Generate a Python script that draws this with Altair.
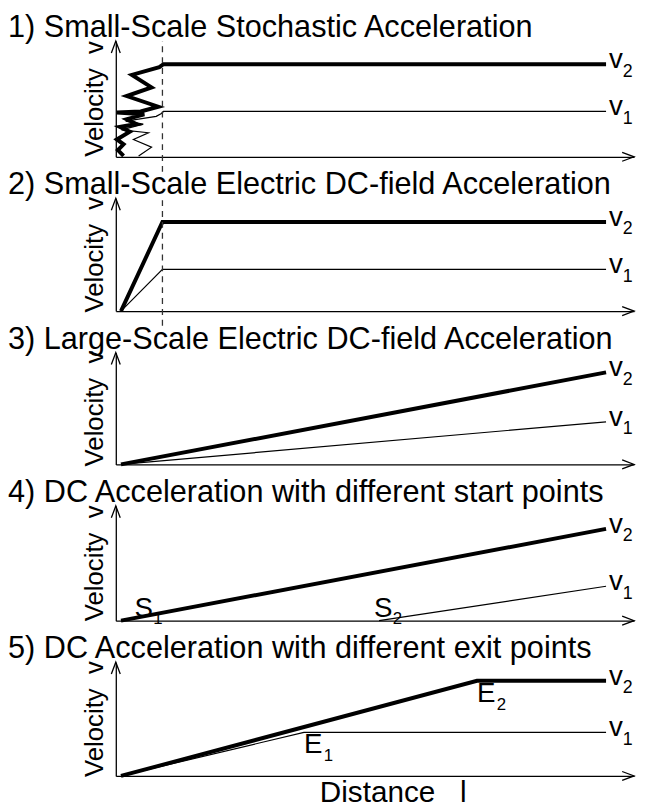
import altair as alt
import pandas as pd

FONT = "Liberation Sans"

TITLES = [
    "1) Small-Scale Stochastic Acceleration",
    "2) Small-Scale Electric DC-field Acceleration",
    "3) Large-Scale Electric DC-field Acceleration",
    "4) DC Acceleration with different start points",
    "5) DC Acceleration with different exit points",
]
Y_LABEL = "Velocity\u00a0\u00a0v"
X_LABEL = "Distance\u00a0\u00a0\u00a0l"

# Panel 1: stochastic acceleration (thick = v2 path, thin = v1 path)
P1_V2_X = [1.5, 0.4, 1.5, 0.2, 2.7, 0.8, 4.0, 2.1, 5.5, 0.2, 4.8, 8.2, 2.1, 6.9, 3.1, 8.4, 9.2, 94.6]
P1_V2_Y = [0.8, 5.8, 10.8, 15.0, 21.7, 25.8, 28.3, 32.5, 36.7, 38.3, 39.2, 43.3, 52.5, 60.0, 70.8, 77.5, 80.0, 80.0]
P1_V1_X = [4.4, 6.9, 3.4, 6.3, 1.1, 5.3, 1.9, 7.8, 8.8, 9.2, 94.6]
P1_V1_Y = [0.8, 8.3, 15.0, 20.8, 23.3, 28.3, 30.8, 35.0, 37.5, 39.2, 39.2]

# Panel 2: small-scale DC field
P2_V2_X = [1.0, 9.0, 94.6]
P2_V2_Y = [0.0, 79.0, 79.0]
P2_V1_X = [1.0, 9.0, 94.6]
P2_V1_Y = [0.0, 37.0, 37.0]

# Panel 3: large-scale DC field
P3_V2_X = [1.0, 94.6]
P3_V2_Y = [0.0, 82.3]
P3_V1_X = [1.0, 94.6]
P3_V1_Y = [0.0, 38.1]

# Panel 4: different start points
P4_V2_X = [1.0, 94.6]
P4_V2_Y = [0.0, 80.0]
P4_V1_X = [50.8, 94.6]
P4_V1_Y = [0.0, 30.0]

# Panel 5: different exit points
P5_V2_X = [1.0, 69.7, 94.6]
P5_V2_Y = [0.0, 83.6, 83.6]
P5_V1_X = [1.0, 36.3, 94.6]
P5_V1_Y = [0.0, 38.3, 38.3]

# dashed boundary (panels 1, 2)
DASH_X = [9.0, 9.0]
DASH_Y = [-13.0, 100.0]

# start / exit point labels
S_X = [3.6, 49.8]
S_Y = [3.0, 3.0]
S_SUB = ["1", "2"]
E_X = [36.3, 69.7]
E_Y = [38.3, 83.6]
E_SUB = ["1", "2"]

HEIGHTS = [117, 114, 113, 116, 115]
WIDTH = 524

XS = alt.Scale(domain=[0, 100], nice=False, zero=False)
YS = alt.Scale(domain=[0, 100], nice=False, zero=False)


def axes(xtitle):
    if xtitle:
        xa = alt.Axis(title=xtitle, labels=False, ticks=False, grid=False,
                      domainColor="black", domainWidth=1.3,
                      titleFont=FONT, titleFontSize=30, titleFontWeight="normal",
                      titleColor="black", titlePadding=2, titleX=280)
    else:
        xa = alt.Axis(title=None, labels=False, ticks=False, grid=False,
                      domainColor="black", domainWidth=1.3)
    ya = alt.Axis(title=None, labels=False, ticks=False, grid=False,
                  domainColor="black", domainWidth=1.3)
    return xa, ya


def line_df(xs, ys):
    return pd.DataFrame({"x": xs, "y": ys, "i": list(range(len(xs)))})


def panel(k, v2x, v2y, v1x, v1y, dashed=False, slabels=False, elabels=False, xtitle=None):
    xa, ya = axes(xtitle)
    X = alt.X("x:Q", scale=XS, axis=xa)
    Y = alt.Y("y:Q", scale=YS, axis=ya)
    H = HEIGHTS[k]
    layers = []
    thin = alt.Chart(line_df(v1x, v1y)).mark_line(
        color="black", strokeWidth=1.2).encode(x=X, y=Y, order=alt.Order("i:Q"))
    thick = alt.Chart(line_df(v2x, v2y)).mark_line(
        color="black", strokeWidth=4).encode(x=X, y=Y, order=alt.Order("i:Q"))
    layers += [thin, thick]
    if dashed:
        layers.append(alt.Chart(line_df(DASH_X, DASH_Y)).mark_line(
            color="#333333", strokeWidth=1.3, strokeDash=[6, 5]).encode(
            x=X, y=Y, order=alt.Order("i:Q")))
    # axis arrowheads
    layers.append(alt.Chart(pd.DataFrame({"x": [0], "y": [100]})).mark_point(
        shape="M-4.5,12L0,0L4.5,12", size=4, filled=False, stroke="black",
        strokeWidth=1.3, opacity=1).encode(x=X, y=Y))
    layers.append(alt.Chart(pd.DataFrame({"x": [100], "y": [0]})).mark_point(
        shape="M-12,-4.5L0,0L-12,4.5", size=4, filled=False, stroke="black",
        strokeWidth=1.3, opacity=1).encode(x=X, y=Y))
    # v labels at line ends
    ends = pd.DataFrame({"x": [v2x[-1], v1x[-1]], "y": [v2y[-1], v1y[-1]],
                         "m": ["v", "v"], "s": ["2", "1"]})
    layers.append(alt.Chart(ends).mark_text(
        font=FONT, fontSize=28, align="left", baseline="alphabetic", dx=3, dy=4,
        color="black").encode(x=X, y=Y, text="m:N"))
    layers.append(alt.Chart(ends).mark_text(
        font=FONT, fontSize=18, align="left", baseline="alphabetic", dx=17, dy=12.5,
        color="black").encode(x=X, y=Y, text="s:N"))
    if slabels:
        sd = pd.DataFrame({"x": S_X, "y": S_Y, "m": ["S", "S"], "s": S_SUB})
        layers.append(alt.Chart(sd).mark_text(
            font=FONT, fontSize=28, align="left", baseline="alphabetic",
            color="black").encode(x=X, y=Y, text="m:N"))
        layers.append(alt.Chart(sd).mark_text(
            font=FONT, fontSize=17, align="left", baseline="alphabetic", dx=19, dy=7,
            color="black").encode(x=X, y=Y, text="s:N"))
    if elabels:
        ed = pd.DataFrame({"x": E_X, "y": E_Y, "m": ["E", "E"], "s": E_SUB})
        layers.append(alt.Chart(ed).mark_text(
            font=FONT, fontSize=28, align="left", baseline="alphabetic", dy=21,
            color="black").encode(x=X, y=Y, text="m:N"))
        layers.append(alt.Chart(ed).mark_text(
            font=FONT, fontSize=17, align="left", baseline="alphabetic", dx=20, dy=29,
            color="black").encode(x=X, y=Y, text="s:N"))
    # rotated y-axis label
    layers.append(alt.Chart(pd.DataFrame({"t": [Y_LABEL]})).mark_text(
        font=FONT, fontSize=26, align="center", baseline="alphabetic", angle=270,
        color="black").encode(x=alt.value(-13), y=alt.value(H / 2), text="t:N"))
    # panel title
    layers.append(alt.Chart(pd.DataFrame({"t": [TITLES[k]]})).mark_text(
        font=FONT, fontSize=31, align="left", baseline="alphabetic",
        color="black").encode(x=alt.value(-109), y=alt.value(-4), text="t:N"))
    return alt.layer(*layers).properties(width=WIDTH, height=H)


p1 = panel(0, P1_V2_X, P1_V2_Y, P1_V1_X, P1_V1_Y, dashed=True)
p2 = panel(1, P2_V2_X, P2_V2_Y, P2_V1_X, P2_V1_Y, dashed=True)
p3 = panel(2, P3_V2_X, P3_V2_Y, P3_V1_X, P3_V1_Y)
p4 = panel(3, P4_V2_X, P4_V2_Y, P4_V1_X, P4_V1_Y, slabels=True)
p5 = panel(4, P5_V2_X, P5_V2_Y, P5_V1_X, P5_V1_Y, elabels=True, xtitle=X_LABEL)

chart = alt.vconcat(p1, p2, p3, p4, p5, spacing=42, bounds="flush").properties(
    padding=0, background="white"
).configure_view(stroke=None)

chart.save("out.html", embed_options={"renderer": "svg", "actions": False})
